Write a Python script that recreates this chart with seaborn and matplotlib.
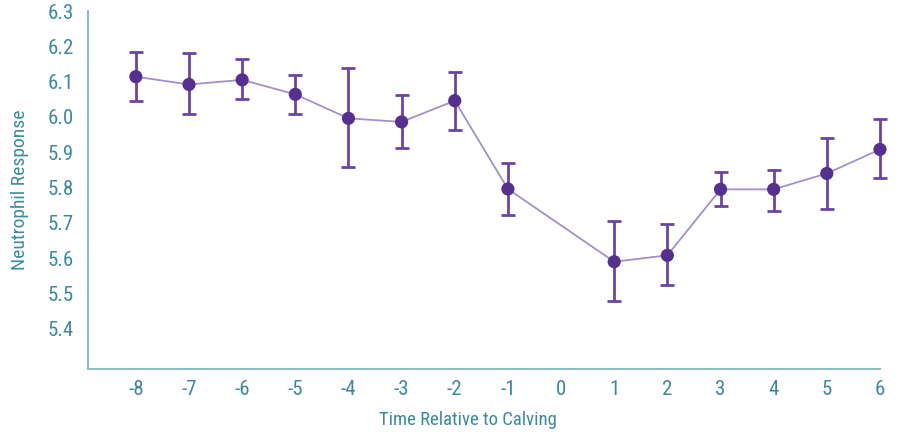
import numpy as np
import pandas as pd
import matplotlib
matplotlib.use("Agg")
import matplotlib.pyplot as plt
import seaborn as sns

weeks = [-8, -7, -6, -5, -4, -3, -2, -1, 1, 2, 3, 4, 5, 6]
response = [6.114, 6.092, 6.105, 6.064, 5.996, 5.986, 6.046, 5.796,
            5.590, 5.608, 5.795, 5.795, 5.840, 5.908]
err_upper = [6.185, 6.180, 6.163, 6.119, 6.138, 6.062, 6.126, 5.869,
             5.705, 5.696, 5.845, 5.850, 5.939, 5.993]
err_lower = [6.046, 6.007, 6.051, 6.007, 5.857, 5.911, 5.963, 5.722,
             5.478, 5.524, 5.748, 5.735, 5.738, 5.828]
x_ticks = list(range(-8, 7))
y_ticks = [5.4, 5.5, 5.6, 5.7, 5.8, 5.9, 6.0, 6.1, 6.2, 6.3]

df = pd.DataFrame({"week": weeks, "resp": response,
                   "hi": err_upper, "lo": err_lower})

sns.set_style("white")
plt.rcParams["font.family"] = ["Liberation Sans Narrow", "Roboto Condensed",
                               "DejaVu Sans Condensed", "Liberation Sans",
                               "DejaVu Sans"]

axis_col = "#8dbdc9"
text_col = "#3b8a9b"
dark = "#55308f"
light = "#a48fcb"

fig = plt.figure(figsize=(9.1, 4.32), dpi=100)
ax = fig.add_axes([0.0967, 0.1465, 0.8703, 0.828])

yerr = np.array([df["resp"] - df["lo"], df["hi"] - df["resp"]])
eb = ax.errorbar(df["week"], df["resp"], yerr=yerr, fmt="none",
                 ecolor="#6a45a3", elinewidth=2, capsize=5, capthick=2,
                 zorder=2)
for art in eb.lines[1] + eb.lines[2]:
    art.set_clip_on(False)
sns.lineplot(data=df, x="week", y="resp", ax=ax, color=light, linewidth=1.3,
             zorder=3)
sns.scatterplot(data=df, x="week", y="resp", ax=ax, color=dark, s=90,
                edgecolor="none", zorder=4)
for c in ax.collections:
    c.set_clip_on(False)

ax.set_xlim(-8.9, 6)
ax.set_ylim(5.287, 6.3)
ax.set_xticks(x_ticks)
ax.set_xticklabels([str(t) for t in x_ticks])
ax.set_yticks(y_ticks)
ax.set_yticklabels([f"{t:.1f}" for t in y_ticks])

for s in ["top", "right"]:
    ax.spines[s].set_visible(False)
for s in ["left", "bottom"]:
    ax.spines[s].set_color(axis_col)
    ax.spines[s].set_linewidth(1.5)

ax.tick_params(axis="both", direction="in", length=6, width=1.2,
               color=axis_col, labelcolor=text_col, labelsize=15)
ax.tick_params(axis="x", pad=8)
ax.tick_params(axis="y", pad=10)

ax.set_xlabel("Time Relative to Calving", color=text_col, fontsize=13.5)
ax.set_ylabel("Neutrophil Response", color=text_col, fontsize=14)
ax.xaxis.set_label_coords(0.48, -0.117)
ax.yaxis.set_label_coords(-0.074, 0.5)

fig.savefig("out.png", dpi=100)
